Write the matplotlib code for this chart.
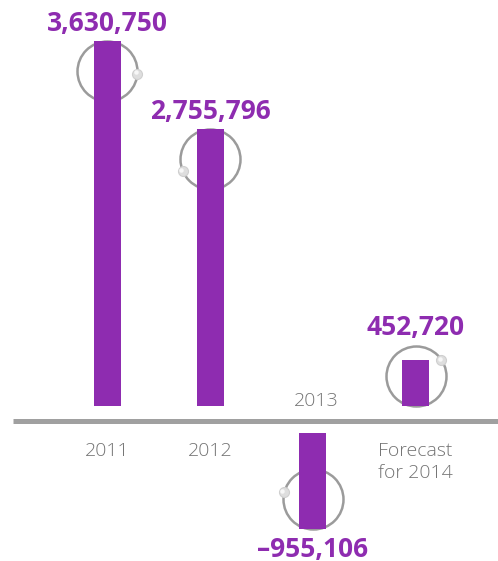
import math
import matplotlib.pyplot as plt
from matplotlib.transforms import offset_copy

plt.rcParams['font.family'] = ['Open Sans', 'DejaVu Sans']

categories = ['2011', '2012', '2013', 'Forecast\nfor 2014']
values = [3630750, 2755796, -955106, 452720]
value_labels = ['3,630,750', '2,755,796', '\u2013955,106', '452,720']

purple = '#8e2cb0'
ring_grey = '#9b9b9b'
text_grey = '#747474'

W, H = 498, 561
fig = plt.figure(figsize=(W / 100, H / 100), dpi=100)
ax = fig.add_axes([0, 0, 1, 1])
ax.axis('off')

# pixel scale: 1 category step ~102.7 px, 1 million ~100.5 px
px_x = 102.7
px_y = 100.5 / 1e6
ax.set_xlim(-107.5 / px_x, 3 + (W - 415.5) / px_x)
ax.set_ylim(-(H - 420.5) / px_y, 420.5 / px_y)

pos_gap = 15 / px_y
neg_gap = 12.5 / px_y
bar_w = 27 / px_x
ring_r = 30
dot_angles = [-6, 205, 167, 31]

# baseline
ax.plot([(13 - 107.5) / px_x, ax.get_xlim()[1]], [0, 0],
        color='#a0a0a0', lw=5 * 0.72, solid_capstyle='butt', zorder=1)

for i, v in enumerate(values):
    if v >= 0:
        base, tip = pos_gap, pos_gap + v
        sign = 1
    else:
        base, tip = -neg_gap, -neg_gap + v
        sign = -1
    ax.bar(i, tip - base, bottom=base, width=bar_w, color=purple, zorder=3)

    length_px = abs(v) * px_y
    # ring sits inside the tip of long bars, on the base of short ones
    if length_px > 2 * ring_r:
        cy = tip
        off = -sign * ring_r
        outer = tip
    else:
        cy = base
        off = sign * ring_r
        outer = base + sign * 2 * ring_r / px_y
    tr = offset_copy(ax.transData, fig, x=0, y=off, units='dots')
    ax.plot(i, cy, 'o', ms=2 * ring_r * 0.72, mfc='none', mec=ring_grey,
            mew=2.5 * 0.72, transform=tr, zorder=2)

    # small bead on the ring
    a = math.radians(dot_angles[i])
    dx, dy = ring_r * math.cos(a), off + ring_r * math.sin(a)
    trd = offset_copy(ax.transData, fig, x=dx, y=dy, units='dots')
    ax.plot(i, cy, 'o', ms=10 * 0.72, mfc='#dedede', mec='#cfcfcf',
            mew=0.8, transform=trd, zorder=4)
    trh = offset_copy(ax.transData, fig, x=dx - 1.5, y=dy + 1.5, units='dots')
    ax.plot(i, cy, 'o', ms=4.5 * 0.72, mfc='#f7f7f7', mec='none',
            transform=trh, zorder=5)

    if v >= 0:
        ax.annotate(value_labels[i], (i, outer), xytext=(0, 10 * 0.72),
                    textcoords='offset points', ha='center', va='baseline',
                    fontsize=19, fontweight='bold', color=purple)
    else:
        ax.annotate(value_labels[i], (i, outer), xytext=(0, -7 * 0.72),
                    textcoords='offset points', ha='center', va='top',
                    fontsize=19, fontweight='bold', color=purple)

for i, (cat, v) in enumerate(zip(categories, values)):
    if v >= 0:
        ax.annotate(cat, (i, 0), xytext=(0, -21 * 0.72),
                    textcoords='offset points', ha='center', va='top',
                    fontsize=14, fontweight='light', color=text_grey,
                    linespacing=1.35)
    else:
        ax.annotate(cat, (i, 0), xytext=(3 * 0.72, 14.5 * 0.72),
                    textcoords='offset points', ha='center', va='baseline',
                    fontsize=14, fontweight='light', color=text_grey)

fig.savefig('out.png', dpi=100)
